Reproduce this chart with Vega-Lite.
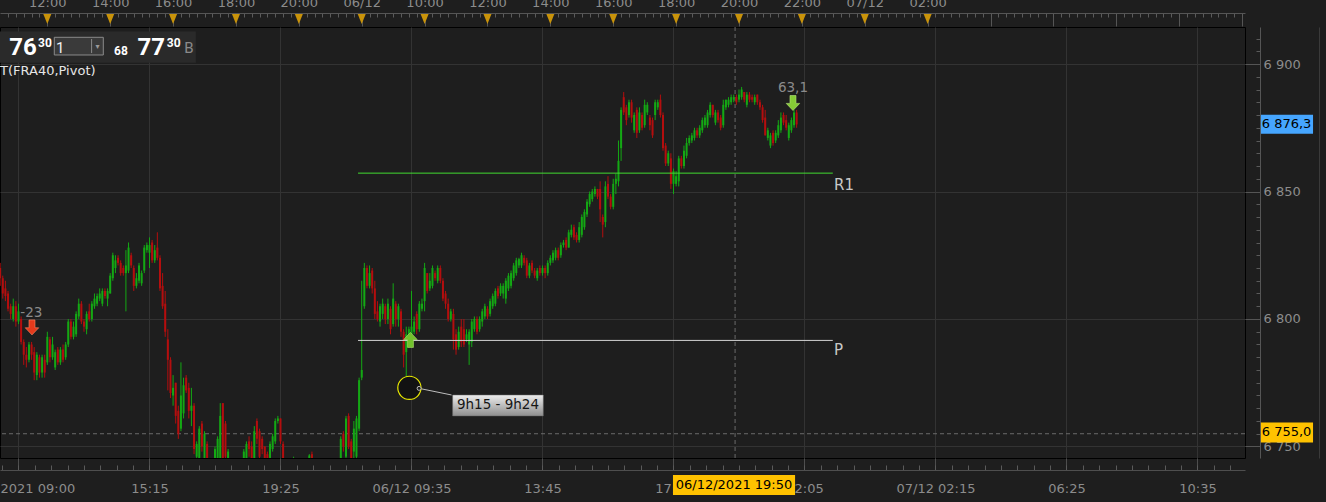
{
  "$schema": "https://vega.github.io/schema/vega-lite/v6.json",
  "width": 1245,
  "height": 431,
  "autosize": {"type": "none"},
  "padding": {"left": 0, "top": 27, "right": 81, "bottom": 44},
  "background": "#1e1e1e",
  "config": {
    "view": {"stroke": "#000000", "strokeWidth": 1},
    "axis": {"labelFont": "DejaVu Sans", "labelFontSize": 13, "labelColor": "#8c8c8c", "domainColor": "#555555", "tickColor": "#5a5a5a", "gridColor": "#333333", "labelOverlap": false, "labelFlush": false, "title": null},
    "scale": {"continuousPadding": 0},
    "text": {"font": "DejaVu Sans"}
  },
  "datasets": {
    "candles": [
      {"bar":-7,"o":6820,"h":6822,"l":6813,"c":6816},{"bar":-6,"o":6816,"h":6817,"l":6808,"c":6810},{"bar":-5,"o":6812,"h":6815,"l":6807,"c":6809},{"bar":-4,"o":6810,"h":6811,"l":6803,"c":6804},{"bar":-3,"o":6805,"h":6806,"l":6800,"c":6802},{"bar":-2,"o":6800,"h":6808,"l":6799,"c":6805},{"bar":-1,"o":6805,"h":6807,"l":6797,"c":6799},{"bar":0,"o":6799,"h":6806,"l":6798,"c":6803},
      {"bar":1,"o":6800,"h":6801,"l":6790,"c":6791},{"bar":2,"o":6791,"h":6792,"l":6782,"c":6786},{"bar":3,"o":6786,"h":6789,"l":6781,"c":6784},{"bar":4,"o":6784,"h":6791,"l":6783,"c":6790},{"bar":5,"o":6790,"h":6791,"l":6784,"c":6786},{"bar":6,"o":6787,"h":6789,"l":6776,"c":6779},{"bar":7,"o":6778,"h":6787,"l":6776,"c":6786},{"bar":8,"o":6785,"h":6786,"l":6777,"c":6779},{"bar":9,"o":6779,"h":6786,"l":6777,"c":6785},{"bar":10,"o":6784,"h":6786,"l":6777,"c":6779},
      {"bar":11,"o":6783,"h":6795,"l":6782,"c":6793},{"bar":12,"o":6792,"h":6793,"l":6783,"c":6785},{"bar":13,"o":6785,"h":6793,"l":6784,"c":6790},{"bar":14,"o":6781,"h":6788,"l":6780,"c":6787},{"bar":15,"o":6788,"h":6789,"l":6782,"c":6783},{"bar":16,"o":6783,"h":6789,"l":6782,"c":6788},{"bar":17,"o":6788,"h":6790,"l":6783,"c":6784},{"bar":18,"o":6785,"h":6791,"l":6784,"c":6790},{"bar":19,"o":6790,"h":6800,"l":6789,"c":6799},{"bar":20,"o":6799,"h":6800,"l":6792,"c":6793},
      {"bar":21,"o":6793,"h":6799,"l":6792,"c":6797},{"bar":22,"o":6794,"h":6803,"l":6793,"c":6802},{"bar":23,"o":6801,"h":6808,"l":6800,"c":6806},{"bar":24,"o":6806,"h":6807,"l":6798,"c":6799},{"bar":25,"o":6799,"h":6800,"l":6795,"c":6797},{"bar":26,"o":6796,"h":6803,"l":6794,"c":6802},{"bar":27,"o":6803,"h":6806,"l":6799,"c":6800},{"bar":28,"o":6800,"h":6807,"l":6799,"c":6806},{"bar":29,"o":6805,"h":6810,"l":6804,"c":6808},{"bar":30,"o":6806,"h":6810,"l":6805,"c":6809},
      {"bar":31,"o":6808,"h":6812,"l":6807,"c":6810},{"bar":32,"o":6806,"h":6812,"l":6805,"c":6811},{"bar":33,"o":6811,"h":6812,"l":6808,"c":6809},{"bar":34,"o":6808,"h":6812,"l":6805,"c":6811},{"bar":35,"o":6810,"h":6818,"l":6810,"c":6817},{"bar":36,"o":6816,"h":6826,"l":6815,"c":6825},{"bar":37,"o":6820,"h":6825,"l":6818,"c":6823},{"bar":38,"o":6824,"h":6825,"l":6821,"c":6822},{"bar":39,"o":6822,"h":6823,"l":6817,"c":6818},{"bar":40,"o":6820,"h":6821,"l":6817,"c":6818},
      {"bar":41,"o":6818,"h":6827,"l":6803,"c":6821},{"bar":42,"o":6819,"h":6830,"l":6818,"c":6828},{"bar":43,"o":6825,"h":6826,"l":6820,"c":6821},{"bar":44,"o":6820,"h":6821,"l":6811,"c":6813},{"bar":45,"o":6813,"h":6818,"l":6812,"c":6816},{"bar":46,"o":6815,"h":6822,"l":6814,"c":6821},{"bar":47,"o":6814,"h":6819,"l":6813,"c":6818},{"bar":48,"o":6819,"h":6829,"l":6818,"c":6828},{"bar":49,"o":6827,"h":6830,"l":6826,"c":6829},{"bar":50,"o":6826,"h":6832,"l":6820,"c":6829},
      {"bar":51,"o":6830,"h":6831,"l":6822,"c":6823},{"bar":52,"o":6823,"h":6829,"l":6822,"c":6827},{"bar":53,"o":6828,"h":6834,"l":6823,"c":6824},{"bar":54,"o":6824,"h":6825,"l":6811,"c":6812},{"bar":55,"o":6813,"h":6818,"l":6804,"c":6805},{"bar":56,"o":6806,"h":6811,"l":6793,"c":6795},{"bar":57,"o":6792,"h":6796,"l":6772,"c":6784},{"bar":58,"o":6784,"h":6785,"l":6769,"c":6771},{"bar":59,"o":6770,"h":6778,"l":6766,"c":6773},{"bar":60,"o":6775,"h":6775,"l":6759,"c":6762},
      {"bar":61,"o":6764,"h":6766,"l":6753,"c":6755},{"bar":62,"o":6757,"h":6783,"l":6756,"c":6770},{"bar":63,"o":6763,"h":6777,"l":6761,"c":6774},{"bar":64,"o":6777,"h":6778,"l":6771,"c":6772},{"bar":65,"o":6773,"h":6775,"l":6761,"c":6764},{"bar":66,"o":6764,"h":6773,"l":6758,"c":6766},{"bar":67,"o":6766,"h":6767,"l":6747,"c":6749},{"bar":68,"o":6746,"h":6752,"l":6740,"c":6751},{"bar":69,"o":6745,"h":6758,"l":6740,"c":6757},{"bar":70,"o":6759,"h":6760,"l":6748,"c":6750},
      {"bar":71,"o":6744,"h":6756,"l":6740,"c":6755},{"bar":72,"o":6751,"h":6752,"l":6740,"c":6744},{"bar":75,"o":6744,"h":6750,"l":6740,"c":6749},{"bar":76,"o":6744,"h":6754,"l":6740,"c":6753},{"bar":77,"o":6745,"h":6767,"l":6741,"c":6762},{"bar":78,"o":6767,"h":6767,"l":6740,"c":6745},{"bar":79,"o":6759,"h":6760,"l":6740,"c":6746},{"bar":80,"o":6743,"h":6749,"l":6740,"c":6748},
      {"bar":86,"o":6743,"h":6749,"l":6740,"c":6748},{"bar":87,"o":6745,"h":6752,"l":6741,"c":6751},{"bar":88,"o":6752,"h":6754,"l":6746,"c":6749},{"bar":89,"o":6750,"h":6752,"l":6740,"c":6745},{"bar":90,"o":6745,"h":6758,"l":6741,"c":6756},
      {"bar":91,"o":6760,"h":6761,"l":6751,"c":6753},{"bar":92,"o":6756,"h":6757,"l":6740,"c":6746},{"bar":93,"o":6753,"h":6754,"l":6747,"c":6749},{"bar":94,"o":6750,"h":6750,"l":6741,"c":6745},{"bar":95,"o":6747,"h":6748,"l":6740,"c":6744},{"bar":96,"o":6744,"h":6752,"l":6740,"c":6751},{"bar":97,"o":6749,"h":6755,"l":6748,"c":6754},{"bar":98,"o":6752,"h":6761,"l":6751,"c":6760},{"bar":99,"o":6760,"h":6762,"l":6759,"c":6761},{"bar":100,"o":6761,"h":6761,"l":6751,"c":6752},
      {"bar":101,"o":6751,"h":6752,"l":6740,"c":6745},{"bar":105,"o":6742,"h":6746,"l":6740,"c":6745},{"bar":111,"o":6743,"h":6747,"l":6741,"c":6746.5},{"bar":112,"o":6747,"h":6748,"l":6742,"c":6744},
      {"bar":123,"o":6744,"h":6754,"l":6740,"c":6753},{"bar":124,"o":6755,"h":6756,"l":6748,"c":6750},{"bar":125,"o":6746,"h":6762,"l":6741,"c":6761},{"bar":126,"o":6762,"h":6763,"l":6749,"c":6750},{"bar":127,"o":6752,"h":6753,"l":6740,"c":6745},{"bar":128,"o":6748,"h":6760,"l":6745,"c":6757},{"bar":129,"o":6746,"h":6762,"l":6742,"c":6761},{"bar":130,"o":6757,"h":6777,"l":6756,"c":6776},
      {"bar":131,"o":6777,"h":6815,"l":6776,"c":6780},{"bar":132,"o":6805,"h":6822,"l":6804,"c":6820},{"bar":133,"o":6820,"h":6821,"l":6812,"c":6813},{"bar":134,"o":6813,"h":6821,"l":6812,"c":6818},{"bar":135,"o":6819,"h":6820,"l":6810,"c":6812},{"bar":136,"o":6812,"h":6815,"l":6800,"c":6802},{"bar":137,"o":6803,"h":6807,"l":6799,"c":6800},{"bar":138,"o":6799,"h":6806,"l":6797,"c":6805},{"bar":139,"o":6802,"h":6808,"l":6800,"c":6806},{"bar":140,"o":6805,"h":6806,"l":6798,"c":6800},
      {"bar":141,"o":6800,"h":6808,"l":6798,"c":6806},{"bar":142,"o":6804,"h":6805,"l":6794,"c":6796},{"bar":143,"o":6798,"h":6814,"l":6797,"c":6808},{"bar":144,"o":6806,"h":6807,"l":6797,"c":6800},{"bar":145,"o":6800,"h":6806,"l":6797,"c":6805},{"bar":146,"o":6803,"h":6804,"l":6793,"c":6795},{"bar":147,"o":6795,"h":6796,"l":6781,"c":6786},{"bar":148,"o":6787,"h":6797,"l":6777,"c":6794},{"bar":149,"o":6792,"h":6797,"l":6790,"c":6796},{"bar":150,"o":6794,"h":6811,"l":6793,"c":6797},
      {"bar":151,"o":6795,"h":6801,"l":6794,"c":6799},{"bar":152,"o":6802,"h":6803,"l":6794,"c":6796},{"bar":153,"o":6796,"h":6807,"l":6795,"c":6806},{"bar":154,"o":6804,"h":6808,"l":6803,"c":6806},{"bar":155,"o":6807,"h":6822,"l":6803,"c":6820},{"bar":156,"o":6818,"h":6818,"l":6810,"c":6811},{"bar":157,"o":6812,"h":6818,"l":6811,"c":6815},{"bar":158,"o":6813,"h":6821,"l":6812,"c":6820},{"bar":159,"o":6818,"h":6819,"l":6815,"c":6816},{"bar":160,"o":6815,"h":6821,"l":6814,"c":6820},
      {"bar":161,"o":6820,"h":6821,"l":6814,"c":6815},{"bar":162,"o":6815,"h":6816,"l":6807,"c":6808},{"bar":163,"o":6810,"h":6811,"l":6804,"c":6806},{"bar":164,"o":6806,"h":6808,"l":6799,"c":6800},{"bar":165,"o":6800,"h":6804,"l":6799,"c":6803},{"bar":166,"o":6802,"h":6804,"l":6788,"c":6792},{"bar":167,"o":6794,"h":6796,"l":6786,"c":6788},{"bar":168,"o":6789,"h":6797,"l":6788,"c":6795},{"bar":169,"o":6797,"h":6800,"l":6789,"c":6791},{"bar":170,"o":6796,"h":6800,"l":6789,"c":6790},
      {"bar":171,"o":6792,"h":6796,"l":6791,"c":6794},{"bar":172,"o":6790,"h":6796,"l":6782,"c":6795},{"bar":173,"o":6791,"h":6800,"l":6789,"c":6799},{"bar":174,"o":6796,"h":6801,"l":6795,"c":6800},{"bar":175,"o":6800,"h":6801,"l":6794,"c":6795},{"bar":176,"o":6796,"h":6801,"l":6795,"c":6800},{"bar":177,"o":6799,"h":6804,"l":6797,"c":6803},{"bar":178,"o":6801,"h":6806,"l":6800,"c":6805},{"bar":179,"o":6804,"h":6805,"l":6800,"c":6801},{"bar":180,"o":6802,"h":6808,"l":6801,"c":6807},
      {"bar":181,"o":6805,"h":6810,"l":6804,"c":6809},{"bar":182,"o":6806,"h":6812,"l":6805,"c":6811},{"bar":183,"o":6812,"h":6813,"l":6808,"c":6809},{"bar":184,"o":6810,"h":6814,"l":6809,"c":6813},{"bar":185,"o":6810,"h":6814,"l":6808,"c":6813},{"bar":186,"o":6808,"h":6816,"l":6806,"c":6815},{"bar":187,"o":6812,"h":6818,"l":6811,"c":6817},{"bar":188,"o":6813,"h":6819,"l":6812,"c":6818},{"bar":189,"o":6816,"h":6822,"l":6815,"c":6821},{"bar":190,"o":6818,"h":6824,"l":6817,"c":6823},
      {"bar":191,"o":6821,"h":6824,"l":6820,"c":6823.5},{"bar":192,"o":6821,"h":6826,"l":6820,"c":6825},{"bar":193,"o":6824,"h":6825,"l":6821,"c":6822},{"bar":194,"o":6823,"h":6824,"l":6816,"c":6817},{"bar":195,"o":6817,"h":6822,"l":6816,"c":6821},{"bar":196,"o":6822,"h":6823,"l":6818,"c":6819},{"bar":197,"o":6819,"h":6820,"l":6816,"c":6817},{"bar":198,"o":6816,"h":6820,"l":6815,"c":6819},{"bar":199,"o":6820,"h":6821,"l":6817,"c":6818},{"bar":200,"o":6818,"h":6821,"l":6817,"c":6820},
      {"bar":201,"o":6820,"h":6821,"l":6816,"c":6818},{"bar":202,"o":6818,"h":6823,"l":6817,"c":6822},{"bar":203,"o":6822,"h":6825,"l":6821,"c":6824},{"bar":204,"o":6823,"h":6827,"l":6822,"c":6826},{"bar":205,"o":6824,"h":6828,"l":6823,"c":6827},{"bar":206,"o":6827,"h":6828,"l":6823,"c":6824},{"bar":207,"o":6825,"h":6830,"l":6824,"c":6829},{"bar":208,"o":6829,"h":6831,"l":6828,"c":6830},{"bar":209,"o":6831,"h":6832,"l":6827,"c":6828},{"bar":210,"o":6828,"h":6835,"l":6828,"c":6834},
      {"bar":211,"o":6833,"h":6837,"l":6832,"c":6835},{"bar":212,"o":6836,"h":6837,"l":6831,"c":6832},{"bar":213,"o":6833,"h":6834,"l":6830,"c":6831},{"bar":214,"o":6831,"h":6838,"l":6830,"c":6836},{"bar":215,"o":6833,"h":6841,"l":6832,"c":6840},{"bar":216,"o":6836,"h":6843,"l":6835,"c":6842},{"bar":217,"o":6841,"h":6847,"l":6840,"c":6846},{"bar":218,"o":6845,"h":6850,"l":6844,"c":6849},{"bar":219,"o":6847,"h":6851,"l":6846,"c":6850},{"bar":220,"o":6849,"h":6852,"l":6848,"c":6851},
      {"bar":221,"o":6851,"h":6851,"l":6847,"c":6848},{"bar":222,"o":6851,"h":6854,"l":6838,"c":6843},{"bar":223,"o":6840,"h":6841,"l":6832,"c":6837},{"bar":224,"o":6838,"h":6854,"l":6836,"c":6852},{"bar":225,"o":6853,"h":6856,"l":6847,"c":6848},{"bar":226,"o":6848,"h":6849,"l":6843,"c":6844},{"bar":227,"o":6844,"h":6855,"l":6843,"c":6853},{"bar":228,"o":6853,"h":6857,"l":6849,"c":6855},{"bar":229,"o":6854,"h":6870,"l":6852,"c":6862},{"bar":230,"o":6867,"h":6883,"l":6862,"c":6882},
      {"bar":231,"o":6887,"h":6889,"l":6880,"c":6881},{"bar":232,"o":6883,"h":6884,"l":6876,"c":6878},{"bar":233,"o":6880,"h":6886,"l":6879,"c":6885},{"bar":234,"o":6885,"h":6886,"l":6877,"c":6879},{"bar":235,"o":6874,"h":6881,"l":6873,"c":6880},{"bar":236,"o":6882,"h":6883,"l":6871,"c":6873},{"bar":237,"o":6874,"h":6883,"l":6873,"c":6881},{"bar":238,"o":6880,"h":6881,"l":6874,"c":6875},{"bar":239,"o":6876,"h":6886,"l":6875,"c":6884},{"bar":240,"o":6881,"h":6885,"l":6880,"c":6884},
      {"bar":241,"o":6879,"h":6880,"l":6874,"c":6876},{"bar":242,"o":6878,"h":6879,"l":6871,"c":6872},{"bar":243,"o":6880,"h":6886,"l":6878,"c":6885},{"bar":244,"o":6883,"h":6886,"l":6882,"c":6885},{"bar":245,"o":6886,"h":6888,"l":6879,"c":6880},{"bar":246,"o":6880,"h":6881,"l":6866,"c":6867},{"bar":247,"o":6868,"h":6869,"l":6860,"c":6861},{"bar":248,"o":6861,"h":6866,"l":6860,"c":6865},{"bar":249,"o":6863,"h":6865,"l":6851,"c":6853},{"bar":250,"o":6853,"h":6859,"l":6849,"c":6858},
      {"bar":251,"o":6853,"h":6858,"l":6852,"c":6856},{"bar":252,"o":6854,"h":6864,"l":6852,"c":6863},{"bar":253,"o":6863,"h":6864,"l":6859,"c":6860},{"bar":254,"o":6860,"h":6868,"l":6859,"c":6866},{"bar":255,"o":6864,"h":6871,"l":6863,"c":6869},{"bar":256,"o":6869,"h":6872,"l":6868,"c":6871},{"bar":257,"o":6870,"h":6873,"l":6869,"c":6872},{"bar":258,"o":6871,"h":6875,"l":6870,"c":6874},{"bar":259,"o":6874,"h":6875,"l":6871,"c":6872},{"bar":260,"o":6872,"h":6876,"l":6871,"c":6875},
      {"bar":261,"o":6874,"h":6879,"l":6873,"c":6878},{"bar":262,"o":6876,"h":6880,"l":6875,"c":6879},{"bar":263,"o":6876,"h":6882,"l":6875,"c":6881},{"bar":264,"o":6880,"h":6885,"l":6879,"c":6884},{"bar":265,"o":6884,"h":6884,"l":6879,"c":6880},{"bar":266,"o":6877,"h":6882,"l":6876,"c":6881},{"bar":267,"o":6881,"h":6882,"l":6877,"c":6878},{"bar":268,"o":6879,"h":6880,"l":6874,"c":6875},{"bar":269,"o":6876,"h":6886,"l":6875,"c":6884},{"bar":270,"o":6883,"h":6886,"l":6882,"c":6886},
      {"bar":271,"o":6884,"h":6887,"l":6883,"c":6886},{"bar":272,"o":6885,"h":6888,"l":6884,"c":6887},{"bar":273,"o":6886,"h":6888,"l":6885,"c":6887},{"bar":274,"o":6887,"h":6888,"l":6884,"c":6885},{"bar":275,"o":6886,"h":6890,"l":6885,"c":6888},{"bar":276,"o":6887,"h":6891,"l":6886,"c":6890},{"bar":277,"o":6889,"h":6889,"l":6885,"c":6886},{"bar":278,"o":6884,"h":6889,"l":6883,"c":6888},{"bar":279,"o":6888,"h":6889,"l":6885,"c":6886},{"bar":280,"o":6887,"h":6888,"l":6885,"c":6886},
      {"bar":281,"o":6885,"h":6888,"l":6884,"c":6887},{"bar":282,"o":6888,"h":6888,"l":6884,"c":6885},{"bar":283,"o":6885,"h":6886,"l":6882,"c":6883},{"bar":284,"o":6883,"h":6884,"l":6877,"c":6878},{"bar":285,"o":6879,"h":6882,"l":6872,"c":6872},{"bar":286,"o":6871,"h":6875,"l":6870,"c":6874},{"bar":287,"o":6868,"h":6873,"l":6867,"c":6872},{"bar":288,"o":6873,"h":6874,"l":6868,"c":6869},{"bar":289,"o":6870,"h":6874,"l":6869,"c":6873},{"bar":290,"o":6872,"h":6878,"l":6871,"c":6876},
      {"bar":291,"o":6874,"h":6881,"l":6873,"c":6879},{"bar":292,"o":6880,"h":6881,"l":6876,"c":6877},{"bar":293,"o":6878,"h":6880,"l":6874,"c":6875},{"bar":294,"o":6871,"h":6877,"l":6870,"c":6876},{"bar":295,"o":6874,"h":6879,"l":6873,"c":6878},{"bar":296,"o":6876,"h":6882,"l":6875,"c":6881},{"bar":297,"o":6881,"h":6882,"l":6875,"c":6876.3}
    ],
    "pivots": [
      {"name": "R1", "p": 6857.2, "b1": 129.6, "b2": 310.8, "lb": 311.3, "lp": 6852.7},
      {"name": "P", "p": 6791.6, "b1": 129.6, "b2": 310.8, "lb": 311.3, "lp": 6787.8}
    ],
    "cross": [{"bar": 273.5, "p": 6755}],
    "topticks": [{"bar":11},{"bar":35},{"bar":59},{"bar":83},{"bar":107},{"bar":131},{"bar":155},{"bar":179},{"bar":203},{"bar":227},{"bar":251},{"bar":275},{"bar":299},{"bar":323},{"bar":347}],
    "panel": [{"b1": -7.06, "b2": 67.7, "p1": 6912.7, "p2": 6900.5}],
    "dropdown": [{"b1": 13.66, "b2": 32.37, "p1": 6910.47, "p2": 6903.53}],
    "divider": [{"bar": 27.9, "p1": 6909.8, "p2": 6904.3}],
    "bignums": [{"bar": 1.72, "p": 6903.53, "txt": "76"}, {"bar": 50.69, "p": 6903.53, "txt": "77"}],
    "smallnums": [{"bar": 10.11, "p": 6906.67, "txt": "30"}, {"bar": 59.24, "p": 6906.67, "txt": "30"}, {"bar": 39.12, "p": 6903.53, "txt": "68"}],
    "ddtext": [{"bar": 14.3, "p": 6904.43, "txt": "1"}],
    "ddarrow": [{"bar": 30.2, "p": 6906.5, "txt": "▾"}],
    "btext": [{"bar": 65.08, "p": 6904.2, "txt": "B"}],
    "indname": [{"bar": -7.06, "p": 6895.5, "txt": "T(FRA40,Pivot)"}],
    "sigdown": [{"bar": 5.15, "p": 6796.7}],
    "sigup": [{"bar": 149.6, "p": 6791.8}],
    "sigdown2": [{"bar": 295.6, "p": 6884.7}],
    "siglabels": [{"bar": 4.89, "p": 6802.35, "txt": "-23"}, {"bar": 295.6, "p": 6890.4, "txt": "63,1"}],
    "circle": [{"bar": 149.2, "p": 6773.0}],
    "connector": [{"b1": 152.9, "b2": 165.3, "p1": 6772.8, "p2": 6770.2}],
    "tipbox": [{"b1": 165.7, "b2": 200.3, "p1": 6770.2, "p2": 6762.0}],
    "tiptext": [{"bar": 183.0, "p": 6766.1, "txt": "9h15 - 9h24"}],
    "timebox": [{"b1": 249.8, "b2": 296.4, "p1": 6738.8, "p2": 6731.0}],
    "lastbox": [{"b1": 474.2, "b2": 494.1, "p1": 6880.1, "p2": 6872.6}],
    "levelbox": [{"b1": 474.2, "b2": 494.1, "p1": 6759.4, "p2": 6751.6}],
    "boxtexts": [{"bar": 273.1, "p": 6734.9, "txt": "06/12/2021 19:50"}, {"bar": 484.0, "p": 6876.3, "txt": "6 876,3"}, {"bar": 484.0, "p": 6755.5, "txt": "6 755,0"}]
  },
  "resolve": {"axis": {"x": "independent", "y": "independent"}},
  "layer": [
    {
      "data": {"name": "cross"},
      "mark": {"type": "rule", "color": "#6a6a6a", "strokeDash": [4, 3], "strokeWidth": 1},
      "encoding": {
        "x": {"field": "bar", "type": "quantitative", "scale": {"domain": [-7.06, 468.13], "nice": false, "zero": false, "padding": 0},
          "axis": {"orient": "top", "values": [11,35,59,83,107,131,155,179,203,227,251,275,299,323,347,371,395,419,443,467], "offset": 14, "tickSize": -13, "tickColor": "#555555", "domain": false, "grid": false, "labelPadding": 20, "labelBaseline": "alphabetic", "labelExpr": "['12:00','14:00','16:00','18:00','20:00','06/12','10:00','12:00','14:00','16:00','18:00','20:00','22:00','07/12','02:00','','','','',''][(datum.value-11)/24]", "title": null}}
      }
    },
    {
      "data": {"name": "cross"},
      "mark": {"type": "rule", "color": "#6a6a6a", "strokeDash": [4, 3], "strokeWidth": 1},
      "encoding": {
        "y": {"field": "p", "type": "quantitative", "scale": {"domain": [6745.49, 6914.51], "nice": false, "zero": false, "padding": 0},
          "axis": {"orient": "right", "values": [6750,6755,6760,6765,6770,6775,6780,6785,6790,6795,6800,6805,6810,6815,6820,6825,6830,6835,6840,6845,6850,6855,6860,6865,6870,6875,6880,6885,6890,6895,6900,6905,6910], "offset": 15, "tickSize": -4, "tickColor": "#5a5a5a", "domain": true, "domainColor": "#555555", "labels": false, "grid": false, "title": null}}
      }
    },
    {
      "data": {"name": "candles"},
      "mark": {"type": "rule", "clip": true, "strokeWidth": 1},
      "encoding": {
        "x": {"field": "bar", "type": "quantitative", "scale": {"domain": [-7.06, 468.13], "nice": false, "zero": false, "padding": 0},
          "axis": {"orient": "bottom", "values": [0,50,100,150,200,250,300,350,400,450], "grid": true, "gridColor": "#333333", "domain": false, "ticks": false, "labels": false, "title": null}},
        "y": {"field": "l", "type": "quantitative", "scale": {"domain": [6745.49, 6914.51], "nice": false, "zero": false, "padding": 0},
          "axis": {"orient": "right", "values": [6750, 6800, 6850, 6900], "grid": true, "gridColor": "#333333", "domain": false, "ticks": false, "labels": false, "title": null}},
        "y2": {"field": "h"},
        "color": {"condition": {"test": "datum.c >= datum.o", "value": "#14a814"}, "value": "#b40e0e"}
      }
    },
    {
      "data": {"name": "candles"},
      "mark": {"type": "bar", "clip": true, "size": 2},
      "encoding": {
        "x": {"field": "bar", "type": "quantitative", "scale": {"domain": [-7.06, 468.13], "nice": false, "zero": false, "padding": 0},
          "axis": {"orient": "bottom", "values": [0,50,100,150,200,250,300,350,400,450], "offset": 12, "tickSize": -12, "tickColor": "#4e4e4e", "domain": false, "grid": false, "labelPadding": 34, "labelBaseline": "alphabetic",
            "labelAlign": {"condition": {"test": "datum.value === 0", "value": "left"}, "value": "center"},
            "labelOffset": {"condition": {"test": "datum.value === 0", "value": -18.5}, "value": 0},
            "labelExpr": "['2021 09:00','15:15','19:25','06/12 09:35','13:45','17:55','22:05','07/12 02:15','06:25','10:35'][datum.value/50]", "title": null}},
        "y": {"field": "o", "type": "quantitative", "scale": {"domain": [6745.49, 6914.51], "nice": false, "zero": false, "padding": 0},
          "axis": {"orient": "right", "values": [6750, 6800, 6850, 6900], "offset": 15, "tickSize": -15, "tickColor": "#555555", "domain": false, "grid": false, "labelPadding": 18, "labelAlign": "left", "labelBaseline": "middle", "labelExpr": "replace(format(datum.value, ','), ',', ' ')", "title": null}},
        "y2": {"field": "c"},
        "color": {"condition": {"test": "datum.c >= datum.o", "value": "#14a814"}, "value": "#b40e0e"}
      }
    },
    {
      "data": {"name": "pivots"},
      "mark": {"type": "rule", "strokeWidth": 1},
      "encoding": {
        "x": {"field": "b1", "type": "quantitative", "scale": {"domain": [-7.06, 468.13], "nice": false, "zero": false, "padding": 0},
          "axis": {"orient": "bottom", "values": [-6.25,0,6.25,12.5,18.75,25,31.25,37.5,43.75,50,56.25,62.5,68.75,75,81.25,87.5,93.75,100,106.25,112.5,118.75,125,131.25,137.5,143.75,150,156.25,162.5,168.75,175,181.25,187.5,193.75,200,206.25,212.5,218.75,225,231.25,237.5,243.75,250,256.25,262.5,268.75,275,281.25,287.5,293.75,300,306.25,312.5,318.75,325,331.25,337.5,343.75,350,356.25,362.5,368.75,375,381.25,387.5,393.75,400,406.25,412.5,418.75,425,431.25,437.5,443.75,450,456.25,462.5], "offset": 12, "tickSize": -5, "tickColor": "#5a5a5a", "domain": true, "domainColor": "#4e4e4e", "labels": false, "grid": false, "title": null}},
        "x2": {"field": "b2"},
        "y": {"field": "p", "type": "quantitative", "scale": {"domain": [6745.49, 6914.51], "nice": false, "zero": false, "padding": 0}, "axis": null},
        "color": {"field": "name", "type": "nominal", "scale": {"domain": ["R1", "P"], "range": ["#42dc30", "#d4d4d4"]}, "legend": null}
      }
    },
    {
      "data": {"name": "pivots"},
      "mark": {"type": "text", "align": "left", "baseline": "middle", "fontSize": 15, "color": "#c8c8c8"},
      "encoding": {
        "x": {"field": "lb", "type": "quantitative", "scale": {"domain": [-7.06, 468.13], "nice": false, "zero": false, "padding": 0},
          "axis": {"orient": "top", "values": [-4,-1,2,5,8,11,14,17,20,23,26,29,32,35,38,41,44,47,50,53,56,59,62,65,68,71,74,77,80,83,86,89,92,95,98,101,104,107,110,113,116,119,122,125,128,131,134,137,140,143,146,149,152,155,158,161,164,167,170,173,176,179,182,185,188,191,194,197,200,203,206,209,212,215,218,221,224,227,230,233,236,239,242,245,248,251,254,257,260,263,266,269,272,275,278,281,284,287,290,293,296,299,302,305,308,311,314,317,320,323,326,329,332,335,338,341,344,347,350,353,356,359,362,365,368,371,374,377,380,383,386,389,392,395,398,401,404,407,410,413,416,419,422,425,428,431,434,437,440,443,446,449,452,455,458,461,464,467], "offset": 14, "tickSize": -4, "tickColor": "#5a5a5a", "domain": true, "domainColor": "#555555", "labels": false, "grid": false, "title": null}},
        "y": {"field": "lp", "type": "quantitative", "scale": {"domain": [6745.49, 6914.51], "nice": false, "zero": false, "padding": 0}, "axis": null},
        "text": {"field": "name"}
      }
    },
    {
      "data": {"name": "topticks"},
      "mark": {"type": "point", "shape": "M-0.8,-1L0.8,-1L0,1Z", "size": 100, "filled": true, "fill": "#c9930a", "opacity": 1, "strokeWidth": 0},
      "encoding": {
        "x": {"field": "bar", "type": "quantitative", "scale": {"domain": [-7.06, 468.13], "nice": false, "zero": false, "padding": 0}, "axis": null},
        "y": {"datum": 6917.65, "type": "quantitative", "scale": {"domain": [6745.49, 6914.51], "nice": false, "zero": false, "padding": 0}, "axis": null}
      }
    },
    {
      "data": {"name": "panel"},
      "mark": {"type": "rect", "fill": "#2a2a2a"},
      "encoding": {
        "x": {"field": "b1", "type": "quantitative", "scale": {"domain": [-7.06, 468.13], "nice": false, "zero": false, "padding": 0}, "axis": null},
        "x2": {"field": "b2"},
        "y": {"field": "p1", "type": "quantitative", "scale": {"domain": [6745.49, 6914.51], "nice": false, "zero": false, "padding": 0},
          "axis": {"orient": "right", "offset": 74, "domain": true, "domainColor": "#3a3a3a", "ticks": false, "labels": false, "grid": false, "title": null}},
        "y2": {"field": "p2"}
      }
    },
    {
      "data": {"name": "dropdown"},
      "mark": {"type": "rect", "fill": "#3a3a3a", "stroke": "#8a8a8a", "strokeWidth": 1},
      "encoding": {
        "x": {"field": "b1", "type": "quantitative", "scale": {"domain": [-7.06, 468.13], "nice": false, "zero": false, "padding": 0}, "axis": null},
        "x2": {"field": "b2"},
        "y": {"field": "p1", "type": "quantitative", "scale": {"domain": [6745.49, 6914.51], "nice": false, "zero": false, "padding": 0}, "axis": null},
        "y2": {"field": "p2"}
      }
    },
    {
      "data": {"name": "divider"},
      "mark": {"type": "rule", "color": "#8a8a8a", "strokeWidth": 1},
      "encoding": {
        "x": {"field": "bar", "type": "quantitative", "scale": {"domain": [-7.06, 468.13], "nice": false, "zero": false, "padding": 0}, "axis": null},
        "y": {"field": "p1", "type": "quantitative", "scale": {"domain": [6745.49, 6914.51], "nice": false, "zero": false, "padding": 0}, "axis": null},
        "y2": {"field": "p2"}
      }
    },
    {
      "data": {"name": "bignums"},
      "mark": {"type": "text", "font": "Roboto", "fontWeight": "bold", "fontSize": 24, "color": "#ffffff", "align": "center", "baseline": "alphabetic"},
      "encoding": {
        "x": {"field": "bar", "type": "quantitative", "scale": {"domain": [-7.06, 468.13], "nice": false, "zero": false, "padding": 0}, "axis": null},
        "y": {"field": "p", "type": "quantitative", "scale": {"domain": [6745.49, 6914.51], "nice": false, "zero": false, "padding": 0}, "axis": null},
        "text": {"field": "txt"}
      }
    },
    {
      "data": {"name": "smallnums"},
      "mark": {"type": "text", "font": "Roboto", "fontWeight": "bold", "fontSize": 12, "color": "#ffffff", "align": "center", "baseline": "alphabetic"},
      "encoding": {
        "x": {"field": "bar", "type": "quantitative", "scale": {"domain": [-7.06, 468.13], "nice": false, "zero": false, "padding": 0}, "axis": null},
        "y": {"field": "p", "type": "quantitative", "scale": {"domain": [6745.49, 6914.51], "nice": false, "zero": false, "padding": 0}, "axis": null},
        "text": {"field": "txt"}
      }
    },
    {
      "data": {"name": "ddtext"},
      "mark": {"type": "text", "font": "Roboto", "fontSize": 15, "color": "#f0f0f0", "align": "left", "baseline": "alphabetic"},
      "encoding": {
        "x": {"field": "bar", "type": "quantitative", "scale": {"domain": [-7.06, 468.13], "nice": false, "zero": false, "padding": 0}, "axis": null},
        "y": {"field": "p", "type": "quantitative", "scale": {"domain": [6745.49, 6914.51], "nice": false, "zero": false, "padding": 0}, "axis": null},
        "text": {"field": "txt"}
      }
    },
    {
      "data": {"name": "ddarrow"},
      "mark": {"type": "text", "fontSize": 8, "color": "#9a9a9a", "align": "center", "baseline": "middle"},
      "encoding": {
        "x": {"field": "bar", "type": "quantitative", "scale": {"domain": [-7.06, 468.13], "nice": false, "zero": false, "padding": 0}, "axis": null},
        "y": {"field": "p", "type": "quantitative", "scale": {"domain": [6745.49, 6914.51], "nice": false, "zero": false, "padding": 0}, "axis": null},
        "text": {"field": "txt"}
      }
    },
    {
      "data": {"name": "btext"},
      "mark": {"type": "text", "font": "Roboto", "fontSize": 15, "color": "#8a8a8a", "align": "center", "baseline": "alphabetic"},
      "encoding": {
        "x": {"field": "bar", "type": "quantitative", "scale": {"domain": [-7.06, 468.13], "nice": false, "zero": false, "padding": 0}, "axis": null},
        "y": {"field": "p", "type": "quantitative", "scale": {"domain": [6745.49, 6914.51], "nice": false, "zero": false, "padding": 0}, "axis": null},
        "text": {"field": "txt"}
      }
    },
    {
      "data": {"name": "indname"},
      "mark": {"type": "text", "fontSize": 13, "color": "#e6e6e6", "align": "left", "baseline": "alphabetic"},
      "encoding": {
        "x": {"field": "bar", "type": "quantitative", "scale": {"domain": [-7.06, 468.13], "nice": false, "zero": false, "padding": 0}, "axis": null},
        "y": {"field": "p", "type": "quantitative", "scale": {"domain": [6745.49, 6914.51], "nice": false, "zero": false, "padding": 0}, "axis": null},
        "text": {"field": "txt"}
      }
    },
    {
      "data": {"name": "sigdown"},
      "mark": {"type": "point", "shape": "M-0.4,-1L0.4,-1L0.4,0.05L0.9,0.05L0,1L-0.9,0.05L-0.4,0.05Z", "size": 225, "filled": true, "fill": "#e43a1c", "stroke": "#ff8a66", "strokeWidth": 0.6, "opacity": 1},
      "encoding": {
        "x": {"field": "bar", "type": "quantitative", "scale": {"domain": [-7.06, 468.13], "nice": false, "zero": false, "padding": 0}, "axis": null},
        "y": {"field": "p", "type": "quantitative", "scale": {"domain": [6745.49, 6914.51], "nice": false, "zero": false, "padding": 0}, "axis": null}
      }
    },
    {
      "data": {"name": "sigup"},
      "mark": {"type": "point", "shape": "M-0.4,1L0.4,1L0.4,-0.05L0.9,-0.05L0,-1L-0.9,-0.05L-0.4,-0.05Z", "size": 225, "filled": true, "fill": "#72c22c", "stroke": "#b0e070", "strokeWidth": 0.6, "opacity": 1},
      "encoding": {
        "x": {"field": "bar", "type": "quantitative", "scale": {"domain": [-7.06, 468.13], "nice": false, "zero": false, "padding": 0}, "axis": null},
        "y": {"field": "p", "type": "quantitative", "scale": {"domain": [6745.49, 6914.51], "nice": false, "zero": false, "padding": 0}, "axis": null}
      }
    },
    {
      "data": {"name": "sigdown2"},
      "mark": {"type": "point", "shape": "M-0.4,-1L0.4,-1L0.4,0.05L0.9,0.05L0,1L-0.9,0.05L-0.4,0.05Z", "size": 225, "filled": true, "fill": "#86cc36", "stroke": "#b8e67a", "strokeWidth": 0.6, "opacity": 1},
      "encoding": {
        "x": {"field": "bar", "type": "quantitative", "scale": {"domain": [-7.06, 468.13], "nice": false, "zero": false, "padding": 0}, "axis": null},
        "y": {"field": "p", "type": "quantitative", "scale": {"domain": [6745.49, 6914.51], "nice": false, "zero": false, "padding": 0}, "axis": null}
      }
    },
    {
      "data": {"name": "siglabels"},
      "mark": {"type": "text", "fontSize": 13.5, "color": "#8a8a8a", "align": "center", "baseline": "middle"},
      "encoding": {
        "x": {"field": "bar", "type": "quantitative", "scale": {"domain": [-7.06, 468.13], "nice": false, "zero": false, "padding": 0}, "axis": null},
        "y": {"field": "p", "type": "quantitative", "scale": {"domain": [6745.49, 6914.51], "nice": false, "zero": false, "padding": 0}, "axis": null},
        "text": {"field": "txt"}
      }
    },
    {
      "data": {"name": "connector"},
      "mark": {"type": "rule", "color": "#bdbdbd", "strokeWidth": 1},
      "encoding": {
        "x": {"field": "b1", "type": "quantitative", "scale": {"domain": [-7.06, 468.13], "nice": false, "zero": false, "padding": 0}, "axis": null},
        "x2": {"field": "b2"},
        "y": {"field": "p1", "type": "quantitative", "scale": {"domain": [6745.49, 6914.51], "nice": false, "zero": false, "padding": 0}, "axis": null},
        "y2": {"field": "p2"}
      }
    },
    {
      "data": {"name": "circle"},
      "mark": {"type": "point", "shape": "circle", "size": 540, "fill": "#121212", "stroke": "#e8e800", "strokeWidth": 1.2, "opacity": 1},
      "encoding": {
        "x": {"field": "bar", "type": "quantitative", "scale": {"domain": [-7.06, 468.13], "nice": false, "zero": false, "padding": 0}, "axis": null},
        "y": {"field": "p", "type": "quantitative", "scale": {"domain": [6745.49, 6914.51], "nice": false, "zero": false, "padding": 0}, "axis": null}
      }
    },
    {
      "data": {"name": "connector"},
      "mark": {"type": "point", "shape": "circle", "size": 16, "fill": "#1e1e1e", "stroke": "#bdbdbd", "strokeWidth": 1, "opacity": 1},
      "encoding": {
        "x": {"field": "b1", "type": "quantitative", "scale": {"domain": [-7.06, 468.13], "nice": false, "zero": false, "padding": 0}, "axis": null},
        "y": {"field": "p1", "type": "quantitative", "scale": {"domain": [6745.49, 6914.51], "nice": false, "zero": false, "padding": 0}, "axis": null}
      }
    },
    {
      "data": {"name": "tipbox"},
      "mark": {"type": "rect", "fill": {"gradient": "linear", "x1": 0, "y1": 0, "x2": 0, "y2": 1, "stops": [{"offset": 0, "color": "#ededed"}, {"offset": 1, "color": "#8e8e8e"}]}, "stroke": "#6a6a6a", "strokeWidth": 0.5},
      "encoding": {
        "x": {"field": "b1", "type": "quantitative", "scale": {"domain": [-7.06, 468.13], "nice": false, "zero": false, "padding": 0}, "axis": null},
        "x2": {"field": "b2"},
        "y": {"field": "p1", "type": "quantitative", "scale": {"domain": [6745.49, 6914.51], "nice": false, "zero": false, "padding": 0}, "axis": null},
        "y2": {"field": "p2"}
      }
    },
    {
      "data": {"name": "tiptext"},
      "mark": {"type": "text", "fontSize": 13.5, "color": "#161616", "align": "center", "baseline": "middle"},
      "encoding": {
        "x": {"field": "bar", "type": "quantitative", "scale": {"domain": [-7.06, 468.13], "nice": false, "zero": false, "padding": 0}, "axis": null},
        "y": {"field": "p", "type": "quantitative", "scale": {"domain": [6745.49, 6914.51], "nice": false, "zero": false, "padding": 0}, "axis": null},
        "text": {"field": "txt"}
      }
    },
    {
      "data": {"name": "timebox"},
      "mark": {"type": "rect", "fill": "#ffc200"},
      "encoding": {
        "x": {"field": "b1", "type": "quantitative", "scale": {"domain": [-7.06, 468.13], "nice": false, "zero": false, "padding": 0}, "axis": null},
        "x2": {"field": "b2"},
        "y": {"field": "p1", "type": "quantitative", "scale": {"domain": [6745.49, 6914.51], "nice": false, "zero": false, "padding": 0}, "axis": null},
        "y2": {"field": "p2"}
      }
    },
    {
      "data": {"name": "lastbox"},
      "mark": {"type": "rect", "fill": "#46a6ff"},
      "encoding": {
        "x": {"field": "b1", "type": "quantitative", "scale": {"domain": [-7.06, 468.13], "nice": false, "zero": false, "padding": 0}, "axis": null},
        "x2": {"field": "b2"},
        "y": {"field": "p1", "type": "quantitative", "scale": {"domain": [6745.49, 6914.51], "nice": false, "zero": false, "padding": 0}, "axis": null},
        "y2": {"field": "p2"}
      }
    },
    {
      "data": {"name": "levelbox"},
      "mark": {"type": "rect", "fill": "#ffc200"},
      "encoding": {
        "x": {"field": "b1", "type": "quantitative", "scale": {"domain": [-7.06, 468.13], "nice": false, "zero": false, "padding": 0}, "axis": null},
        "x2": {"field": "b2"},
        "y": {"field": "p1", "type": "quantitative", "scale": {"domain": [6745.49, 6914.51], "nice": false, "zero": false, "padding": 0}, "axis": null},
        "y2": {"field": "p2"}
      }
    },
    {
      "data": {"name": "boxtexts"},
      "mark": {"type": "text", "fontSize": 13, "color": "#000000", "align": "center", "baseline": "middle"},
      "encoding": {
        "x": {"field": "bar", "type": "quantitative", "scale": {"domain": [-7.06, 468.13], "nice": false, "zero": false, "padding": 0}, "axis": null},
        "y": {"field": "p", "type": "quantitative", "scale": {"domain": [6745.49, 6914.51], "nice": false, "zero": false, "padding": 0}, "axis": null},
        "text": {"field": "txt"}
      }
    }
  ]
}
